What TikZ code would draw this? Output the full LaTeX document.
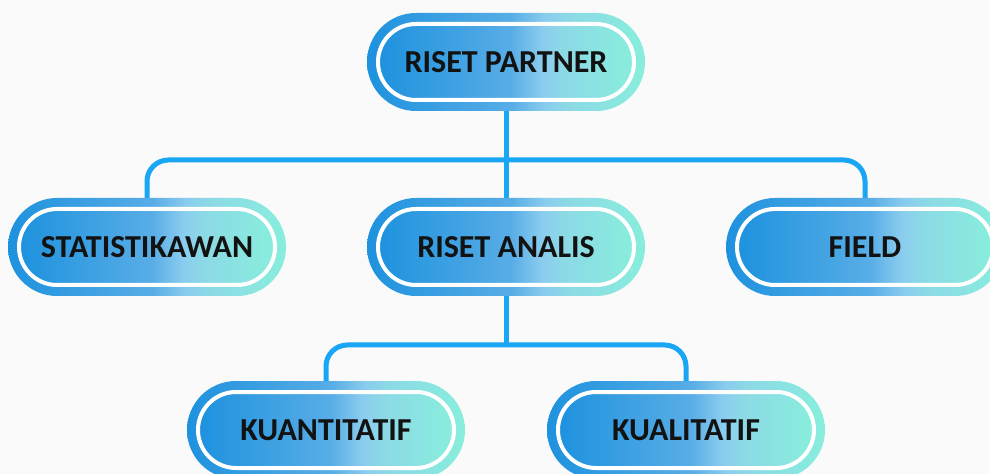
\documentclass[tikz,border=0pt]{standalone}
\usepackage{fontspec}
\setmainfont{Carlito}
\pgfdeclarelayer{bg}
\pgfdeclarelayer{lines}
\pgfsetlayers{bg,lines,main}
\definecolor{cA}{HTML}{1E92DE}
\definecolor{cB}{HTML}{58ADE6}
\definecolor{cC}{HTML}{8ACCEE}
\definecolor{cD}{HTML}{8CD9E6}
\definecolor{cE}{HTML}{88EEDC}
\definecolor{linec}{HTML}{19A6F5}
\definecolor{bgc}{HTML}{FAFAFA}
\pgfdeclarehorizontalshading{pillshade}{100bp}{color(0bp)=(cA); color(25bp)=(cA); color(51bp)=(cB); color(57bp)=(cC); color(61bp)=(cD); color(75bp)=(cE); color(100bp)=(cE)}
\tikzset{
  pillouter/.style={rectangle, rounded corners=36.75pt, minimum width=208.5pt, minimum height=73.5pt, inner sep=0pt, shading=pillshade, shading angle=0},
  pillinner/.style={rectangle, rounded corners=28.5pt, minimum width=192pt, minimum height=57pt, inner sep=0pt, shading=pillshade, shading angle=0, draw=white, line width=3pt, font=\fontsize{24pt}{28pt}\selectfont\bfseries, text=black!93},
  conn/.style={draw=linec, line width=3.75pt, rounded corners=16pt}
}
\begin{document}
\begin{tikzpicture}[x=0.75pt, y=-0.75pt]
\begin{pgfonlayer}{bg}
\fill[bgc] (0,0) rectangle (990,474);
\end{pgfonlayer}
\useasboundingbox (0,0) rectangle (990,474);
% boxes
\node[pillouter] (rp) at (506,62) {};
\node[pillinner] (rpi) at (rp.center) {RISET PARTNER};
\node[pillouter] (st) at (147,247) {};
\node[pillinner] (sti) at (st.center) {STATISTIKAWAN};
\node[pillouter] (ra) at (506,247) {};
\node[pillinner] (rai) at (ra.center) {RISET ANALIS};
\node[pillouter] (fi) at (865,247) {};
\node[pillinner] (fii) at (fi.center) {FIELD};
\node[pillouter] (ku) at (326,430) {};
\node[pillinner] (kui) at (ku.center) {KUANTITATIF};
\node[pillouter] (kl) at (686,430) {};
\node[pillinner] (kli) at (kl.center) {KUALITATIF};
\coordinate (bus1) at (506,160);
\coordinate (bus2) at (506,345);
\begin{pgfonlayer}{lines}
\draw[conn] (rp.center) -- (ra.center);
\draw[conn] (st.center) |- (bus1) -| (fi.center);
\draw[conn] (ra.center) -- (bus2);
\draw[conn] (ku.center) |- (bus2) -| (kl.center);
\end{pgfonlayer}
\end{tikzpicture}
\end{document}
